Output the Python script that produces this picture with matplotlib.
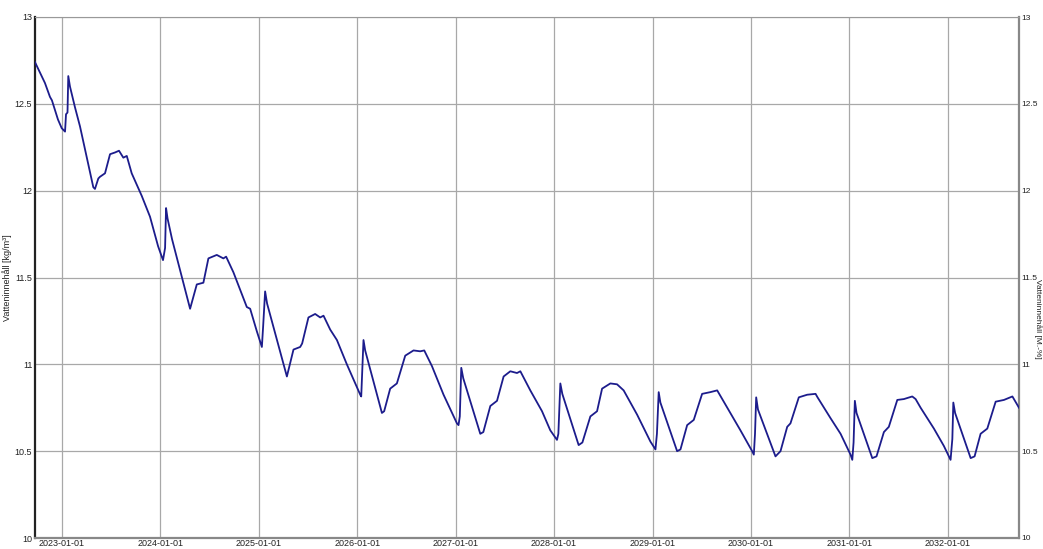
import matplotlib
matplotlib.use("Agg")
import matplotlib.pyplot as plt
import numpy as np
import pandas as pd

# time in decimal years, values in kg/m³
t_years = [
    2022.729, 2022.779, 2022.830, 2022.881, 2022.901, 2022.962, 2023.000, 2023.034, 2023.044, 2023.059,
    2023.067, 2023.084, 2023.135, 2023.186, 2023.321, 2023.338, 2023.372, 2023.389, 2023.440, 2023.491,
    2023.542, 2023.582, 2023.626, 2023.661, 2023.711, 2023.813, 2023.897, 2023.979, 2024.029,
    2024.050, 2024.060, 2024.075, 2024.121, 2024.304, 2024.372, 2024.439, 2024.490, 2024.575, 2024.609,
    2024.642, 2024.670, 2024.744, 2024.880, 2024.914, 2024.982, 2025.033,
    2025.046, 2025.066, 2025.086, 2025.287, 2025.354, 2025.422, 2025.442, 2025.506, 2025.574, 2025.625,
    2025.659, 2025.727, 2025.795, 2025.896, 2026.032, 2026.042,
    2026.065, 2026.082, 2026.252, 2026.275, 2026.336, 2026.404, 2026.489, 2026.573, 2026.641, 2026.682,
    2026.760, 2026.878, 2027.014, 2027.030,
    2027.043, 2027.058, 2027.078, 2027.251, 2027.282, 2027.353, 2027.421, 2027.488, 2027.556, 2027.624,
    2027.658, 2027.759, 2027.878, 2027.962, 2028.030,
    2028.044, 2028.064, 2028.084, 2028.250, 2028.288, 2028.369, 2028.437, 2028.488, 2028.572, 2028.640,
    2028.707, 2028.844, 2028.979, 2029.030,
    2029.045, 2029.063, 2029.080, 2029.250, 2029.284, 2029.352, 2029.419, 2029.504, 2029.588, 2029.657,
    2029.724, 2029.893, 2030.012, 2030.029,
    2030.041, 2030.053, 2030.071, 2030.249, 2030.300, 2030.368, 2030.401, 2030.486, 2030.571, 2030.656,
    2030.676, 2030.808, 2030.910, 2031.011, 2031.029,
    2031.042, 2031.055, 2031.072, 2031.232, 2031.275, 2031.350, 2031.400, 2031.486, 2031.553, 2031.638,
    2031.672, 2031.723, 2031.858, 2031.959, 2032.027,
    2032.045, 2032.055, 2032.073, 2032.231, 2032.271, 2032.332, 2032.400, 2032.485, 2032.569, 2032.655,
    2032.722,
]
water_content = [
    12.74, 12.68, 12.62, 12.54, 12.52, 12.41, 12.36, 12.34, 12.44, 12.45,
    12.66, 12.60, 12.48, 12.37, 12.02, 12.01, 12.07, 12.08, 12.10, 12.21,
    12.22, 12.23, 12.19, 12.20, 12.10, 11.97, 11.85, 11.68, 11.60,
    11.67, 11.90, 11.84, 11.72, 11.32, 11.46, 11.47, 11.61, 11.63, 11.62,
    11.61, 11.62, 11.53, 11.33, 11.32, 11.19, 11.10,
    11.22, 11.42, 11.35, 10.93, 11.085, 11.10, 11.12, 11.27, 11.29, 11.27,
    11.28, 11.20, 11.14, 11.00, 10.825, 10.815,
    11.14, 11.08, 10.72, 10.73, 10.86, 10.89, 11.05, 11.08, 11.075, 11.08,
    10.99, 10.825, 10.66, 10.65,
    10.70, 10.98, 10.92, 10.60, 10.61, 10.76, 10.79, 10.93, 10.96, 10.95,
    10.96, 10.85, 10.73, 10.62, 10.565,
    10.60, 10.89, 10.83, 10.535, 10.55, 10.70, 10.73, 10.86, 10.89, 10.885,
    10.85, 10.71, 10.555, 10.51,
    10.60, 10.84, 10.78, 10.50, 10.51, 10.65, 10.68, 10.83, 10.84, 10.85,
    10.785, 10.62, 10.50, 10.48,
    10.60, 10.81, 10.74, 10.47, 10.50, 10.64, 10.66, 10.81, 10.825, 10.83,
    10.81, 10.69, 10.60, 10.48, 10.45,
    10.55, 10.79, 10.72, 10.46, 10.47, 10.61, 10.64, 10.795, 10.80, 10.815,
    10.80, 10.75, 10.63, 10.53, 10.45,
    10.57, 10.78, 10.72, 10.46, 10.47, 10.60, 10.63, 10.785, 10.795, 10.815,
    10.75,
]
x_tick_labels = ["2023-01-01", "2024-01-01", "2025-01-01", "2026-01-01", "2027-01-01",
                 "2028-01-01", "2029-01-01", "2030-01-01", "2031-01-01", "2032-01-01"]
y_ticks = [10, 10.5, 11, 11.5, 12, 12.5, 13]
y_tick_labels = ["10", "10.5", "11", "11.5", "12", "12.5", "13"]

plt.rcParams['font.family'] = ['Liberation Sans', 'DejaVu Sans']

t = np.array(t_years)
base = pd.Timestamp("2023-01-01")
dates = base + pd.to_timedelta((t - 2023.0) * 365.25, unit="D")

fig = plt.figure(figsize=(10.43, 5.49), dpi=100)
ax = fig.add_axes([35 / 1043, 1 - 538 / 549, (1019 - 35) / 1043, (538 - 17) / 549])

ax.plot(dates, water_content, color="#1c1c8c", lw=1.3, zorder=3)

ax.set_ylim(10, 13)
ax.set_xlim(dates[0], dates[-1])
xt = pd.to_datetime(x_tick_labels)
ax.set_xticks(xt)
ax.set_xticklabels(x_tick_labels, fontsize=6.5, color="#222222")
ax.set_yticks(y_ticks)
ax.set_yticklabels(y_tick_labels, fontsize=6.5, color="#222222")
ax.tick_params(axis="both", length=0, pad=2)
ax.tick_params(axis="x", pad=1)
ax.grid(True, color="#a8a8a8", lw=0.9)
ax.set_axisbelow(True)

ax.spines["top"].set_color("#999999")
ax.spines["top"].set_linewidth(0.8)
ax.spines["left"].set_color("#222222")
ax.spines["left"].set_linewidth(1.6)
ax.spines["bottom"].set_color("#888888")
ax.spines["bottom"].set_linewidth(1.6)
ax.spines["right"].set_color("#888888")
ax.spines["right"].set_linewidth(1.6)

ax.set_ylabel("Vatteninnehåll [kg/m³]", fontsize=6.5, color="#222222")
ax.yaxis.set_label_coords(-0.0235, 0.5)

ax2 = ax.twinx()
ax2.set_ylim(10, 13)
ax2.set_yticks(y_ticks)
ax2.set_yticklabels(y_tick_labels, fontsize=6, color="#222222")
ax2.tick_params(axis="y", length=0, pad=2)
ax2.set_ylabel("Vatteninnehåll [M.-%]", fontsize=6, color="#222222", rotation=270, va="center")
ax2.yaxis.set_label_coords(1.0192, 0.42)
for s in ax2.spines.values():
    s.set_visible(False)

fig.savefig("out.png", dpi=100, facecolor="white")
